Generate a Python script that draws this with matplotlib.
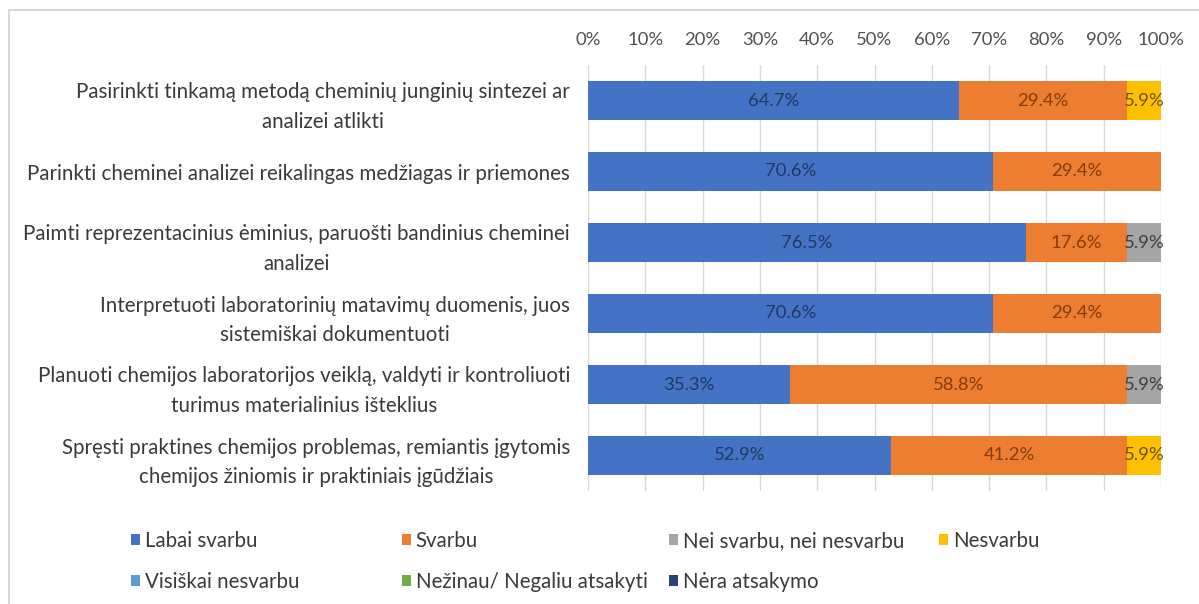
import matplotlib
matplotlib.use("Agg")
import matplotlib.pyplot as plt
from matplotlib.patches import Rectangle, Patch
from matplotlib.ticker import PercentFormatter
import numpy as np

plt.rcParams['font.family'] = ['Lato', 'DejaVu Sans']

categories = [
    "Pasirinkti tinkamą metodą cheminių junginių sintezei ar\nanalizei atlikti",
    "Parinkti cheminei analizei reikalingas medžiagas ir priemones",
    "Paimti reprezentacinius ėminius, paruošti bandinius cheminei\nanalizei",
    "Interpretuoti laboratorinių matavimų duomenis, juos\nsistemiškai dokumentuoti",
    "Planuoti chemijos laboratorijos veiklą, valdyti ir kontroliuoti\nturimus materialinius išteklius",
    "Spręsti praktines chemijos problemas, remiantis įgytomis\nchemijos žiniomis ir praktiniais įgūdžiais",
]

series_names = [
    "Labai svarbu", "Svarbu", "Nei svarbu, nei nesvarbu", "Nesvarbu",
    "Visiškai nesvarbu", "Nežinau/ Negaliu atsakyti", "Nėra atsakymo",
]

labai_svarbu = [64.7, 70.6, 76.5, 70.6, 35.3, 52.9]
svarbu = [29.4, 29.4, 17.6, 29.4, 58.8, 41.2]
nei_svarbu = [0.0, 0.0, 5.9, 0.0, 5.9, 0.0]
nesvarbu = [5.9, 0.0, 0.0, 0.0, 0.0, 5.9]
visiskai_nesvarbu = [0.0, 0.0, 0.0, 0.0, 0.0, 0.0]
nezinau = [0.0, 0.0, 0.0, 0.0, 0.0, 0.0]
nera_atsakymo = [0.0, 0.0, 0.0, 0.0, 0.0, 0.0]

series_values = [labai_svarbu, svarbu, nei_svarbu, nesvarbu,
                 visiskai_nesvarbu, nezinau, nera_atsakymo]
colors = ["#4472C4", "#ED7D31", "#A5A5A5", "#FFC000",
          "#5B9BD5", "#70AD47", "#264478"]
label_colors = ["#1F3864", "#843C0C", "#3F3F3F", "#6B5200",
                "#1F4E79", "#375623", "#FFFFFF"]

TEXT_SIZE = 14.8
NUM_SIZE = 13.3

W, H = 1199, 604
fig = plt.figure(figsize=(W / 100, H / 100), dpi=100)
fig.patch.set_facecolor("white")

# chart frame
fig.patches.append(Rectangle((9 / W, -0.05), 1.2, 1 - 10 / H + 0.05,
                             transform=fig.transFigure, fill=False,
                             edgecolor="#D0D0D0", linewidth=1.2))

ax = fig.add_axes([588 / W, 1 - 491 / H, (1161 - 588) / W, (491 - 65) / H])

y = np.arange(len(categories))
left = np.zeros(len(categories))
for name, vals, col, lcol in zip(series_names, series_values, colors, label_colors):
    vals = np.array(vals)
    ax.barh(y, vals, left=left, height=0.56, color=col, label=name)
    for yi, v, l in zip(y, vals, left):
        if v > 0:
            ax.text(l + v / 2, yi, f"{v:.1f}%", ha="center", va="center",
                    fontsize=NUM_SIZE, color=lcol)
    left += vals

ax.set_xlim(0, 100)
ax.set_ylim(len(categories) - 0.5, -0.5)
ax.xaxis.set_major_formatter(PercentFormatter(decimals=0))
ax.set_xticks(np.arange(0, 101, 10))
ax.xaxis.tick_top()
ax.tick_params(axis="x", length=0, pad=12, labelsize=NUM_SIZE, labelcolor="#505050")
ax.set_yticks(y)
ax.set_yticklabels(categories, multialignment="center", linespacing=1.6)
ax.tick_params(axis="y", length=0, pad=13, labelsize=TEXT_SIZE, labelcolor="#3A3A3A")
for s in ax.spines.values():
    s.set_visible(False)
ax.grid(axis="x", color="#D9D9D9", linewidth=1)
ax.set_axisbelow(True)

# legend laid out in four equal columns, filled row by row
col_x = [131, 402, 669, 939]
for c in range(4):
    idx = [c, c + 4] if c + 4 < len(series_names) else [c]
    handles = [Patch(facecolor=colors[i]) for i in idx]
    labels = [series_names[i] for i in idx]
    fig.legend(handles, labels, loc="upper left",
               bbox_to_anchor=(col_x[c] / W, 1 - 531 / H),
               frameon=False, fontsize=TEXT_SIZE, handlelength=0.42,
               handleheight=0.42, handletextpad=0.25, labelspacing=1.0,
               borderpad=0, borderaxespad=0, labelcolor="#3A3A3A")

fig.savefig("out.png", dpi=100)
